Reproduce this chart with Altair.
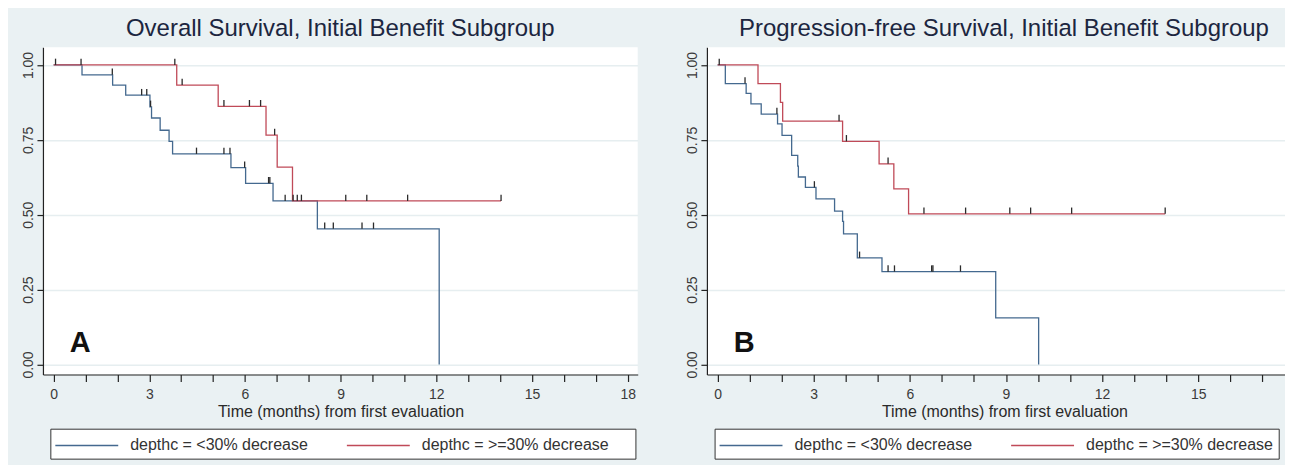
import altair as alt
import pandas as pd

GROUPS = ["depthc = <30% decrease", "depthc = >=30% decrease"]
LINE_COLORS = ["#44698f", "#c04a58"]
BG = "#eaf1f3"
GRID = "#e6eef0"
FONT = "Liberation Sans"

# ---------- Panel A: Overall Survival ----------
a_lo_t = [0, 0.89, 1.85, 2.26, 3.02, 3.07, 3.34, 3.62, 3.73, 5.56, 6.02, 6.88, 8.27, 12.09]
a_lo_s = [1.0, 0.967, 0.933, 0.899, 0.860, 0.823, 0.782, 0.745, 0.703, 0.657, 0.605, 0.546, 0.453, 0.0]
a_lo_cens = [0.06, 0.86, 1.84, 2.76, 2.92, 3.04, 4.48, 5.34, 5.53, 5.99, 6.74, 6.78, 7.26,
             8.50, 8.77, 9.67, 10.03]
a_hi_t = [0, 3.86, 5.16, 6.66, 7.01, 7.49, 14.03]
a_hi_s = [1.0, 0.933, 0.862, 0.766, 0.659, 0.546, 0.546]
a_hi_cens = [3.80, 4.03, 5.34, 6.14, 6.49, 6.93, 7.51, 7.64, 7.77, 9.16, 9.82, 11.10, 14.03]

# ---------- Panel B: Progression-free Survival ----------
b_lo_t = [0, 0.24, 0.89, 1.04, 1.36, 1.87, 2.01, 2.31, 2.50, 2.52, 2.74, 3.07, 3.65, 3.90,
          3.93, 4.36, 5.13, 8.68, 10.02]
b_lo_s = [1.0, 0.938, 0.905, 0.870, 0.836, 0.803, 0.765, 0.698, 0.662, 0.626, 0.591, 0.553,
          0.512, 0.478, 0.436, 0.356, 0.310, 0.156, 0.0]
b_lo_cens = [0.05, 0.855, 1.85, 3.02, 4.43, 5.32, 5.52, 6.68, 6.72, 7.58]
b_hi_t = [0, 1.26, 1.96, 2.03, 3.90, 5.04, 5.50, 5.96, 13.97]
b_hi_s = [1.0, 0.9375, 0.875, 0.8125, 0.745, 0.670, 0.586, 0.503, 0.503]
b_hi_cens = [3.79, 4.02, 5.32, 6.44, 7.74, 9.12, 9.77, 11.05, 13.97]

TITLES = ["Overall Survival, Initial Benefit Subgroup",
          "Progression-free Survival, Initial Benefit Subgroup"]
LETTERS = ["A", "B"]
LETTER_T = [0.83]
LETTER_S = [0.043]
Y_TICKS = [0, 0.25, 0.5, 0.75, 1.0]
X_TITLE = "Time (months) from first evaluation"


def km_frames(lo_t, lo_s, lo_c, hi_t, hi_s, hi_c):
    rows, cens = [], []
    for g, ts, ss, cs in ((GROUPS[0], lo_t, lo_s, lo_c), (GROUPS[1], hi_t, hi_s, hi_c)):
        for t, s in zip(ts, ss):
            rows.append({"t": t, "s": s, "grp": g})
        for c in cs:
            lvl = ss[0]
            for t, s in zip(ts, ss):
                if t <= c:
                    lvl = s
            cens.append({"t": c, "s": lvl, "grp": g})
    return pd.DataFrame(rows), pd.DataFrame(cens)


def panel(title, letter, curves, cens, width, xmax, xvals, title_dx, legend_x, label_expr):
    xs = alt.Scale(domain=[-0.335, xmax], nice=False, zero=False)
    ys = alt.Scale(domain=[-0.0333, 1.059], nice=False, zero=False)
    xaxis = alt.Axis(values=xvals, format="d",
                     labelExpr="datum.value % 3 == 0 ? datum.label : ''",
                     grid=False, tickSize=7, labelPadding=6, labelFontSize=14,
                     labelFlush=False,
                     title=X_TITLE, titleX=298, titlePadding=2, titleFontSize=16,
                     titleFontWeight="normal")
    yaxis = alt.Axis(values=Y_TICKS, format=".2f", labelAngle=270, labelAlign="center",
                     labelBaseline="alphabetic", labelPadding=4, labelFontSize=14,
                     tickSize=6, grid=True, title=None)
    legend = alt.Legend(orient="none", legendX=legend_x, legendY=382, direction="horizontal",
                        title=None, symbolType="M-3,0H3", symbolSize=441, symbolStrokeWidth=1.5,
                        symbolOffset=20, labelOffset=32,
                        labelFontSize=16, labelFont=FONT, labelColor="#333333", labelLimit=400,
                        columnPadding=36, padding=5, fillColor="white",
                        strokeColor="#333333", labelExpr=label_expr)
    lines = alt.Chart(curves).mark_line(interpolate="step-after", strokeWidth=1.3).encode(
        x=alt.X("t:Q", scale=xs, axis=xaxis),
        y=alt.Y("s:Q", scale=ys, axis=yaxis),
        color=alt.Color("grp:N", scale=alt.Scale(domain=GROUPS, range=LINE_COLORS), legend=legend),
    )
    ticks = alt.Chart(cens).transform_calculate(top="datum.s + 0.021").mark_rule(
        color="#2b2b2b", strokeWidth=1.3).encode(
        x=alt.X("t:Q", scale=xs, axis=xaxis),
        y=alt.Y("s:Q", scale=ys, axis=yaxis),
        y2="top:Q",
    )
    lab = alt.Chart(pd.DataFrame({"t": LETTER_T, "s": LETTER_S, "txt": [letter]})).mark_text(
        font="Liberation Sans Narrow, Liberation Sans", fontSize=29, fontWeight="bold",
        color="#111111", align="center", baseline="alphabetic").encode(
        x=alt.X("t:Q", scale=xs, axis=xaxis),
        y=alt.Y("s:Q", scale=ys, axis=yaxis),
        text="txt:N",
    )
    return alt.layer(lines, ticks, lab).properties(
        width=width, height=327.7,
        title=alt.TitleParams(text=title, fontSize=24, font=FONT, fontWeight="normal",
                              color="#1c2640", anchor="middle", frame="group", offset=6,
                              dx=title_dx),
    )


a_curves, a_cens = km_frames(a_lo_t, a_lo_s, a_lo_cens, a_hi_t, a_hi_s, a_hi_cens)
b_curves, b_cens = km_frames(b_lo_t, b_lo_s, b_lo_cens, b_hi_t, b_hi_s, b_hi_cens)

left = panel(TITLES[0], LETTERS[0], a_curves, a_cens, 595.7, 18.315, list(range(0, 19)), 0, 7.4,
             "indexof(datum.label, '>=') >= 0 ? datum.label + '  \\u2800' : datum.label")
right = panel(TITLES[1], LETTERS[1], b_curves, b_cens, 579, 17.71, list(range(0, 18)), 8, 7.7,
              "datum.label")

chart = alt.hconcat(left, right, spacing=48).resolve_legend(color="independent").properties(
    background=BG,
    padding={"left": 14, "top": 9, "right": 0, "bottom": 6},
).configure_view(fill="white", stroke=None).configure_axis(
    labelFont=FONT, titleFont=FONT, labelColor="#3a3a3a", titleColor="#2a2a2a",
    domainColor="#222222", tickColor="#222222", domainWidth=1.2, tickWidth=1.2,
    gridColor=GRID, gridWidth=1.5,
)

chart.save("out.html", embed_options={"renderer": "svg", "actions": False})
